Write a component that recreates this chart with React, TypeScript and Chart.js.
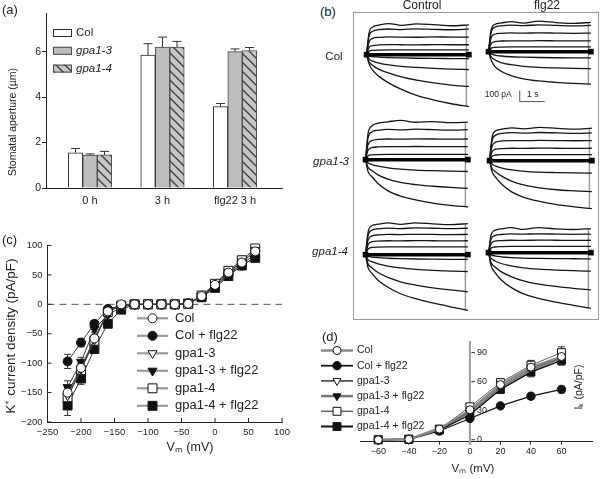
import React, { useEffect, useRef } from 'react';
import { Chart, registerables } from 'chart.js';

Chart.register(...registerables);

const FONT = "'Liberation Sans', Arial, Helvetica, sans-serif";
const INK = '#222222';
Chart.defaults.font.family = FONT;
Chart.defaults.color = INK;

// ---------------- Panel (a): stomatal aperture ----------------
const A_CATEGORIES = ['0 h', '3 h', 'flg22 3 h'];
const A_GENOTYPES = ['Col', 'gpa1-3', 'gpa1-4'];
const A_COL = [1.55, 5.85, 3.58];
const A_COL_ERR = [0.19, 0.5, 0.14];
const A_GPA13 = [1.45, 6.2, 6.0];
const A_GPA13_ERR = [0.05, 0.44, 0.12];
const A_GPA14 = [1.46, 6.2, 6.05];
const A_GPA14_ERR = [0.15, 0.25, 0.13];
const A_Y_TICKS = [0, 2, 4, 6];
const A_Y_MAX = 7.7;

// ---------------- Panel (b): current traces ----------------
const B_TIME = [0, 0.1, 0.25, 0.5, 0.9, 1.4, 2.0, 2.7, 3.4, 4.1]; // s
const B_TAIL_T = 4.0; // s
const B_COL_CONTROL = [
  [0, 200, 255, 272, 286, 270, 283, 276, 266, 274],
  [0, 170, 215, 230, 236, 231, 238, 233, 229, 234],
  [0, 117, 150, 159, 163, 161, 160, 164, 161, 162],
  [0, 66, 84, 89, 92, 91, 90, 92, 91, 91],
  [0, 31, 40, 42, 43, 43, 44, 43, 43, 43],
  [0, -12, -18, -23, -27, -30, -33, -35, -36, -37],
  [0, -40, -60, -78, -95, -108, -118, -127, -133, -137],
  [0, -65, -100, -135, -170, -205, -235, -260, -280, -293],
  [0, -85, -145, -200, -262, -320, -375, -418, -452, -479],
];
const B_COL_FLG22 = [
  [0, 195, 250, 263, 276, 262, 280, 268, 260, 270],
  [0, 175, 225, 238, 244, 240, 246, 241, 237, 242],
  [0, 125, 160, 168, 172, 170, 173, 171, 169, 171],
  [0, 72, 92, 98, 100, 99, 101, 100, 99, 100],
  [0, 31, 40, 42, 43, 43, 43, 43, 43, 43],
  [0, -20, -32, -40, -47, -51, -54, -56, -57, -57],
  [0, -45, -75, -100, -120, -135, -145, -150, -154, -157],
  [0, -75, -135, -180, -220, -250, -270, -283, -292, -299],
];
const B_GPA13_CONTROL = [
  [0, 240, 310, 335, 348, 362, 344, 350, 340, 345],
  [0, 200, 255, 270, 278, 274, 280, 276, 271, 276],
  [0, 137, 175, 186, 190, 188, 191, 190, 188, 190],
  [0, 86, 110, 117, 120, 119, 121, 120, 119, 120],
  [0, 35, 44, 47, 48, 48, 48, 48, 48, 48],
  [0, -30, -45, -60, -75, -87, -96, -102, -106, -109],
  [0, -70, -100, -140, -180, -210, -230, -245, -256, -265],
  [0, -110, -155, -220, -288, -336, -370, -400, -420, -436],
];
const B_GPA13_FLG22 = [
  [0, 210, 275, 290, 302, 293, 306, 297, 290, 299],
  [0, 185, 235, 250, 258, 253, 259, 256, 251, 256],
  [0, 133, 170, 181, 185, 184, 186, 185, 183, 185],
  [0, 82, 105, 111, 114, 113, 115, 114, 113, 114],
  [0, 40, 52, 55, 56, 56, 56, 56, 56, 56],
  [0, -32, -50, -68, -85, -98, -106, -110, -113, -115],
  [0, -70, -105, -145, -190, -225, -250, -268, -278, -286],
  [0, -100, -155, -220, -290, -340, -375, -405, -425, -442],
];
const B_GPA14_CONTROL = [
  [0, 205, 265, 280, 292, 278, 293, 283, 276, 286],
  [0, 175, 225, 238, 245, 240, 246, 243, 239, 243],
  [0, 134, 171, 182, 186, 185, 187, 186, 184, 186],
  [0, 92, 118, 125, 128, 127, 129, 128, 127, 128],
  [0, 52, 66, 70, 72, 72, 72, 72, 72, 72],
  [0, -15, -22, -28, -33, -37, -40, -42, -43, -43],
  [0, -45, -65, -85, -105, -122, -135, -145, -151, -156],
  [0, -85, -120, -165, -210, -250, -280, -305, -325, -342],
  [0, -120, -170, -235, -300, -360, -405, -445, -480, -513],
];
const B_GPA14_FLG22 = [
  [0, 160, 205, 218, 230, 214, 231, 219, 213, 222],
  [0, 123, 157, 167, 172, 170, 173, 171, 169, 171],
  [0, 82, 105, 111, 114, 113, 115, 114, 113, 114],
  [0, 41, 52, 56, 57, 57, 57, 57, 57, 57],
  [0, -20, -30, -38, -45, -50, -53, -55, -56, -57],
  [0, -50, -75, -100, -122, -140, -152, -160, -166, -171],
  [0, -90, -130, -175, -220, -260, -290, -310, -328, -342],
  [0, -120, -180, -250, -320, -380, -420, -455, -485, -513],
];
const B_COLUMNS = ['Control', 'flg22'];
const B_ROWS = ['Col', 'gpa1-3', 'gpa1-4'];
const B_SCALE_PA = 100; // pA
const B_SCALE_S = 1; // s

// ---------------- Panel (c): I-V curves ----------------
const C_VM = [-220, -200, -180, -160, -140, -120, -100, -80, -60, -40, -20, 0, 20, 40, 60];
const C_COL = [-150, -108, -58, -12, 0, 0, 0, 0, 0, 1, 14, 33, 54, 71, 90];
const C_COL_FLG = [-97, -65, -33, -8, -2, 0, 0, 0, 0, 2, 13, 30, 50, 66, 80];
const C_GPA13 = [-155, -110, -60, -14, -1, 0, 0, 0, 0, 1, 14, 33, 55, 72, 92];
const C_GPA13_FLG = [-141, -98, -42, -18, -5, 0, 0, 0, 0, 1, 13, 31, 52, 68, 85];
const C_GPA14 = [-158, -112, -62, -13, -2, 0, 0, 0, 0, 1, 15, 35, 57, 75, 95];
const C_GPA14_FLG = [-172, -126, -76, -33, -9, 0, 0, 0, 0, 1, 12, 28, 48, 66, 79];
const C_COL_ERR = [12, 8, 6, 4, 2, 0, 0, 0, 0, 0, 2, 3, 3, 4, 5];
const C_COL_FLG_ERR = [12, 7, 5, 3, 2, 0, 0, 0, 0, 0, 2, 3, 3, 4, 4];
const C_GPA13_ERR = [14, 9, 6, 4, 2, 0, 0, 0, 0, 0, 2, 3, 3, 4, 5];
const C_GPA13_FLG_ERR = [11, 8, 5, 3, 2, 0, 0, 0, 0, 0, 2, 3, 3, 4, 4];
const C_GPA14_ERR = [14, 9, 6, 4, 2, 0, 0, 0, 0, 0, 2, 3, 4, 4, 5];
const C_GPA14_FLG_ERR = [17, 10, 6, 4, 2, 0, 0, 0, 0, 0, 2, 3, 3, 4, 4];
const C_X_TICKS = [-250, -200, -150, -100, -50, 0, 50, 100];
const C_Y_TICKS = [-200, -150, -100, -50, 0, 50, 100];

// ---------------- Panel (d): outward IK ----------------
const D_VM = [-60, -40, -20, 0, 20, 40, 60];
const D_COL = [0, 0.5, 11, 31, 57, 75, 86];
const D_COL_FLG = [0, 0.5, 9, 22, 35, 45, 52];
const D_GPA13 = [0, 0.5, 10, 30, 56, 74, 85];
const D_GPA13_FLG = [0, 0.5, 12, 28, 54, 72, 84];
const D_GPA14 = [0, 0.5, 11, 34, 59, 77, 90];
const D_GPA14_FLG = [0, 0.5, 10, 26, 52, 70, 82];
const D_COL_ERR = [0, 0, 1.5, 2.5, 4, 5, 6];
const D_COL_FLG_ERR = [0, 0, 1, 2, 2.5, 3, 3.5];
const D_GPA13_ERR = [0, 0, 1.5, 2.5, 4, 5, 6];
const D_GPA13_FLG_ERR = [0, 0, 1.5, 2.5, 4, 5, 5];
const D_GPA14_ERR = [0, 0, 1.5, 2.5, 4, 5, 6];
const D_GPA14_FLG_ERR = [0, 0, 1.5, 2.5, 4, 5, 5];
const D_X_TICKS = [-60, -40, -20, 0, 20, 40, 60];
const D_Y_TICKS = [0, 30, 60, 90];

const SERIES_LABELS = ['Col', 'Col + flg22', 'gpa1-3', 'gpa1-3 + flg22', 'gpa1-4', 'gpa1-4 + flg22'];

// ---------------- helpers ----------------
const minus = (v: any) => String(v).replace('-', '\u2212');

type TextSpec = { t: string; x: number; y: number; size: number; align?: CanvasTextAlign; rot?: number; italic?: boolean };
function drawTexts(ctx: CanvasRenderingContext2D, items: TextSpec[]) {
  for (const it of items) {
    ctx.save();
    ctx.translate(it.x, it.y);
    if (it.rot) ctx.rotate((it.rot * Math.PI) / 180);
    ctx.font = `${it.italic ? 'italic ' : ''}${it.size}px ${FONT}`;
    ctx.fillStyle = INK;
    ctx.textAlign = it.align ?? 'center';
    ctx.textBaseline = 'middle';
    ctx.fillText(it.t, 0, 0);
    ctx.restore();
  }
}

function drawMarker(ctx: CanvasRenderingContext2D, style: string, x: number, y: number, r: number, rotDeg: number, fill: string, stroke: string, bw: number) {
  ctx.save();
  ctx.beginPath();
  if (style === 'circle') {
    ctx.arc(x, y, r, 0, Math.PI * 2);
  } else if (style === 'triangle') {
    let a = (rotDeg * Math.PI) / 180;
    ctx.moveTo(x + Math.sin(a) * r, y - Math.cos(a) * r);
    a += (2 * Math.PI) / 3;
    ctx.lineTo(x + Math.sin(a) * r, y - Math.cos(a) * r);
    a += (2 * Math.PI) / 3;
    ctx.lineTo(x + Math.sin(a) * r, y - Math.cos(a) * r);
    ctx.closePath();
  } else {
    const h = r * Math.SQRT1_2;
    ctx.rect(x - h, y - h, 2 * h, 2 * h);
  }
  ctx.fillStyle = fill;
  ctx.fill();
  ctx.lineWidth = bw;
  ctx.strokeStyle = stroke;
  ctx.stroke();
  ctx.restore();
}

function drawErrorBars(chart: any, capHalf: number, upOnly: boolean, color: string) {
  const ctx: CanvasRenderingContext2D = chart.ctx;
  chart.data.datasets.forEach((ds: any, di: number) => {
    const errs: number[] | undefined = ds.errors;
    if (!errs) return;
    const meta = chart.getDatasetMeta(di);
    const ys = chart.scales[meta.yAxisID];
    meta.data.forEach((el: any, i: number) => {
      const e = errs[i];
      if (!e) return;
      const v = ds.data[i].y;
      const x = el.x;
      const yHi = ys.getPixelForValue(v + e);
      const yLo = upOnly ? el.y : ys.getPixelForValue(v - e);
      ctx.save();
      ctx.strokeStyle = color;
      ctx.lineWidth = 1;
      ctx.beginPath();
      ctx.moveTo(x, yLo);
      ctx.lineTo(x, yHi);
      ctx.moveTo(x - capHalf, yHi);
      ctx.lineTo(x + capHalf, yHi);
      if (!upOnly) {
        ctx.moveTo(x - capHalf, yLo);
        ctx.lineTo(x + capHalf, yLo);
      }
      ctx.stroke();
      ctx.restore();
    });
  });
}

function makeHatch(): CanvasPattern | string {
  const c = document.createElement('canvas');
  c.width = 9;
  c.height = 9;
  const g = c.getContext('2d');
  if (!g) return '#c4c4c4';
  g.fillStyle = '#c6c6c6';
  g.fillRect(0, 0, 9, 9);
  g.strokeStyle = '#3c3c3c';
  g.lineWidth = 1.3;
  g.beginPath();
  g.moveTo(-1, -1);
  g.lineTo(10, 10);
  g.moveTo(-1, 8);
  g.lineTo(1, 10);
  g.moveTo(8, -1);
  g.lineTo(10, 1);
  g.stroke();
  return g.createPattern(c, 'repeat') ?? '#c4c4c4';
}

const baseOptions = {
  responsive: false,
  animation: false,
  events: [] as any[],
  plugins: { legend: { display: false }, tooltip: { enabled: false } },
};

// ---------------- builders ----------------
function buildA() {
  const hatch = makeHatch();
  const series = [
    { data: A_COL, err: A_COL_ERR, bg: '#ffffff', bc: '#2a2a2a' },
    { data: A_GPA13, err: A_GPA13_ERR, bg: '#bdbdbd', bc: '#4a4a4a' },
    { data: A_GPA14, err: A_GPA14_ERR, bg: hatch, bc: '#4a4a4a' },
  ];
  return {
    type: 'bar',
    data: {
      datasets: series.map((s, k) => ({
        label: A_GENOTYPES[k],
        data: s.data.map((v, i) => ({ x: i, y: v })),
        errors: s.err,
        backgroundColor: s.bg,
        borderColor: s.bc,
        borderWidth: 1,
        barThickness: 14.5,
      })),
    },
    options: {
      ...baseOptions,
      layout: { padding: { left: 0, right: 8, top: 13, bottom: 0 } },
      scales: {
        x: {
          type: 'linear',
          offset: false,
          min: -0.607,
          max: 2.648,
          afterFit: (s: any) => { s.height = 27; },
          afterBuildTicks: (s: any) => { s.ticks = A_CATEGORIES.map((_, i) => ({ value: i })); },
          grid: { display: false, drawTicks: false, offset: false },
          border: { display: true, color: INK, width: 1 },
          ticks: { autoSkip: false, maxRotation: 0, padding: 6, color: INK, font: { size: 11 }, callback: (v: any) => A_CATEGORIES[v] ?? '' },
        },
        y: {
          min: 0,
          max: A_Y_MAX,
          afterFit: (s: any) => { s.width = 46; },
          afterBuildTicks: (s: any) => { s.ticks = A_Y_TICKS.map((v) => ({ value: v })); },
          grid: { display: true, drawOnChartArea: false, drawTicks: true, tickLength: 4, color: INK },
          border: { display: true, color: INK, width: 1 },
          ticks: { padding: 1, color: INK, font: { size: 10.5 } },
        },
      },
    },
    plugins: [
      {
        id: 'aDeco',
        afterDatasetsDraw(chart: any) {
          drawErrorBars(chart, 4.5, true, '#333');
        },
        afterDraw(chart: any) {
          const ctx: CanvasRenderingContext2D = chart.ctx;
          chart.data.datasets.forEach((ds: any, k: number) => {
            const cy = 33 + k * 17.8;
            ctx.save();
            ctx.fillStyle = ds.backgroundColor;
            ctx.fillRect(53, cy - 4, 19, 8);
            ctx.strokeStyle = ds.borderColor;
            ctx.lineWidth = 1;
            ctx.strokeRect(53.5, cy - 3.5, 18, 7);
            ctx.restore();
            drawTexts(ctx, [{ t: ds.label, x: 76, y: cy, size: 11.5, align: 'left', italic: k > 0 }]);
          });
          drawTexts(ctx, [
            { t: '(a)', x: 2, y: 10, size: 13, align: 'left' },
            { t: 'Stomatal aperture (\u00b5m)', x: 13, y: 122, size: 10.5, rot: -90 },
          ]);
        },
      },
    ],
  };
}

const B_PX_PER_S = 26.7;
const B_PX_PER_PA = 0.117;
const B_PAD_L = 7;
const B_PAD_T = 47;
const B_W = 123;
const B_H = 112;
const B_LAYOUT = [
  { traces: B_COL_CONTROL, x0: 363, y0: 54, bar: false },
  { traces: B_COL_FLG22, x0: 485, y0: 51, bar: true },
  { traces: B_GPA13_CONTROL, x0: 362, y0: 159, bar: false },
  { traces: B_GPA13_FLG22, x0: 486, y0: 160, bar: false },
  { traces: B_GPA14_CONTROL, x0: 362, y0: 254, bar: false },
  { traces: B_GPA14_FLG22, x0: 485, y0: 252, bar: false },
];

function buildB(traces: number[][], withBar: boolean) {
  return () => {
    const xmin = -B_PAD_L / B_PX_PER_S;
    const xmax = xmin + B_W / B_PX_PER_S;
    const ymax = B_PAD_T / B_PX_PER_PA;
    const ymin = ymax - B_H / B_PX_PER_PA;
    const ends = traces.map((tr) => tr[tr.length - 1]);
    const tEnd = B_TIME[B_TIME.length - 1];
    const datasets: any[] = [];
    datasets.push({
      data: [{ x: B_TIME[0], y: 0 }, { x: tEnd, y: 0 }],
      borderColor: '#050505',
      borderWidth: 3.5,
      pointStyle: 'rect',
      pointRadius: 4,
      pointBackgroundColor: '#050505',
      pointBorderWidth: 0,
      clip: false,
    });
    traces.forEach((tr) => {
      datasets.push({
        data: B_TIME.map((t, i) => ({ x: t, y: tr[i] })),
        borderColor: '#151515',
        borderWidth: 1.3,
        pointRadius: 0,
        cubicInterpolationMode: 'monotone',
        clip: false,
      });
    });
    datasets.push({
      data: [{ x: B_TAIL_T, y: Math.min(...ends) }, { x: B_TAIL_T, y: Math.max(...ends) }],
      borderColor: '#9a9a9a',
      borderWidth: 1.5,
      pointRadius: 0,
      clip: false,
    });
    const plugins: any[] = [];
    if (withBar) {
      plugins.push({
        id: 'scaleBar',
        afterDraw(chart: any) {
          const ctx: CanvasRenderingContext2D = chart.ctx;
          const xs = chart.scales.x;
          const ys = chart.scales.y;
          const t0 = 1.25;
          const p0 = -460;
          const x1 = xs.getPixelForValue(t0);
          const x2 = xs.getPixelForValue(t0 + B_SCALE_S);
          const y1 = ys.getPixelForValue(p0);
          const y2 = ys.getPixelForValue(p0 + B_SCALE_PA);
          ctx.save();
          ctx.strokeStyle = '#555';
          ctx.lineWidth = 1;
          ctx.beginPath();
          ctx.moveTo(x1, y2);
          ctx.lineTo(x1, y1);
          ctx.lineTo(x2, y1);
          ctx.stroke();
          ctx.restore();
          drawTexts(ctx, [
            { t: `${B_SCALE_PA} pA`, x: x1 - 8, y: y1 - 6.5, size: 8.5, align: 'right' },
            { t: `${B_SCALE_S} s`, x: x1 + 13, y: y1 - 6.5, size: 8.5 },
          ]);
        },
      });
    }
    return {
      type: 'line',
      data: { datasets },
      options: {
        ...baseOptions,
        layout: { padding: 0 },
        scales: {
          x: { type: 'linear', display: false, min: xmin, max: xmax },
          y: { type: 'linear', display: false, min: ymin, max: ymax },
        },
      },
      plugins,
    };
  };
}

type SeriesStyle = { ps: string; rot: number; r: number; fill: string; line: string; lw: number };
const C_STYLES: SeriesStyle[] = [
  { ps: 'circle', rot: 0, r: 4.5, fill: '#ffffff', line: '#3a3a3a', lw: 1 },
  { ps: 'circle', rot: 0, r: 4.5, fill: '#111111', line: '#3a3a3a', lw: 1 },
  { ps: 'triangle', rot: 180, r: 5.2, fill: '#ffffff', line: '#3a3a3a', lw: 1 },
  { ps: 'triangle', rot: 180, r: 5.2, fill: '#111111', line: '#3a3a3a', lw: 1 },
  { ps: 'rect', rot: 0, r: 6.3, fill: '#ffffff', line: '#3a3a3a', lw: 1 },
  { ps: 'rect', rot: 0, r: 6.3, fill: '#111111', line: '#3a3a3a', lw: 1 },
];

function lineDatasets(xs: number[], ys: number[][], errs: number[][], styles: SeriesStyle[]) {
  return ys.map((arr, k) => ({
    label: SERIES_LABELS[k],
    data: xs.map((x, i) => ({ x, y: arr[i] })),
    errors: errs[k],
    borderColor: styles[k].line,
    borderWidth: styles[k].lw,
    pointStyle: styles[k].ps,
    pointRotation: styles[k].rot,
    pointRadius: styles[k].r,
    pointBackgroundColor: styles[k].fill,
    pointBorderColor: '#111',
    pointBorderWidth: 1,
    tension: 0,
    clip: false,
  }));
}

function buildC() {
  const datasets = lineDatasets(
    C_VM,
    [C_COL, C_COL_FLG, C_GPA13, C_GPA13_FLG, C_GPA14, C_GPA14_FLG],
    [C_COL_ERR, C_COL_FLG_ERR, C_GPA13_ERR, C_GPA13_FLG_ERR, C_GPA14_ERR, C_GPA14_FLG_ERR],
    C_STYLES,
  );
  return {
    type: 'line',
    data: { datasets },
    options: {
      ...baseOptions,
      layout: { padding: { left: 0, right: 18, top: 17.5, bottom: 0 } },
      scales: {
        x: {
          type: 'linear',
          min: -250,
          max: 100,
          afterFit: (s: any) => { s.height = 57; },
          afterBuildTicks: (s: any) => { s.ticks = C_X_TICKS.map((v) => ({ value: v })); },
          grid: { display: false, drawTicks: false },
          border: { display: true, color: INK, width: 1 },
          ticks: { autoSkip: false, maxRotation: 0, padding: 5, color: INK, font: { size: 9.5 }, callback: minus },
        },
        y: {
          type: 'linear',
          min: -200,
          max: 100,
          afterFit: (s: any) => { s.width = 47.5; },
          afterBuildTicks: (s: any) => { s.ticks = C_Y_TICKS.map((v) => ({ value: v })); },
          grid: { display: false, drawTicks: false },
          border: { display: true, color: INK, width: 1 },
          ticks: { padding: 5, color: INK, font: { size: 9.5 }, callback: minus },
        },
      },
    },
    plugins: [
      {
        id: 'cDeco',
        beforeDatasetsDraw(chart: any) {
          const ctx: CanvasRenderingContext2D = chart.ctx;
          const xs = chart.scales.x;
          const ys = chart.scales.y;
          const area = chart.chartArea;
          const y0 = ys.getPixelForValue(0);
          ctx.save();
          ctx.strokeStyle = '#555';
          ctx.lineWidth = 1;
          ctx.setLineDash([7, 5]);
          ctx.beginPath();
          ctx.moveTo(area.left, y0);
          ctx.lineTo(area.right, y0);
          ctx.stroke();
          ctx.setLineDash([]);
          ctx.strokeStyle = INK;
          ctx.beginPath();
          C_X_TICKS.forEach((v) => {
            const px = xs.getPixelForValue(v);
            ctx.moveTo(px, area.bottom);
            ctx.lineTo(px, area.bottom - 4);
          });
          C_Y_TICKS.forEach((v) => {
            const py = ys.getPixelForValue(v);
            ctx.moveTo(area.left, py);
            ctx.lineTo(area.left + 4, py);
          });
          ctx.stroke();
          ctx.restore();
          drawErrorBars(chart, 3.5, false, '#333');
        },
        afterDraw(chart: any) {
          const ctx: CanvasRenderingContext2D = chart.ctx;
          SERIES_LABELS.forEach((lab, k) => {
            const cy = 90.3 + k * 17.5;
            ctx.save();
            ctx.strokeStyle = '#9a9a9a';
            ctx.lineWidth = 2.2;
            ctx.beginPath();
            ctx.moveTo(137, cy);
            ctx.lineTo(168, cy);
            ctx.stroke();
            ctx.restore();
            const st = C_STYLES[k];
            drawMarker(ctx, st.ps, 152.5, cy, st.r, st.rot, st.fill, '#111', 1);
            drawTexts(ctx, [{ t: lab, x: 175, y: cy, size: 13, align: 'left' }]);
          });
          drawTexts(ctx, [
            { t: '(c)', x: 2, y: 12, size: 13, align: 'left' },
            { t: 'K\u207a current density (pA/pF)', x: 11, y: 108, size: 13.5, rot: -90 },
            { t: 'V\u2098 (mV)', x: 190, y: 220, size: 12.5 },
          ]);
        },
      },
    ],
  };
}

const D_STYLES: SeriesStyle[] = [
  { ps: 'circle', rot: 0, r: 4, fill: '#ffffff', line: '#8a8a8a', lw: 2 },
  { ps: 'circle', rot: 0, r: 4.2, fill: '#111111', line: '#111111', lw: 1.2 },
  { ps: 'triangle', rot: 180, r: 4.6, fill: '#ffffff', line: '#333333', lw: 1 },
  { ps: 'triangle', rot: 180, r: 4.6, fill: '#111111', line: '#777777', lw: 2 },
  { ps: 'rect', rot: 0, r: 5.6, fill: '#ffffff', line: '#666666', lw: 1 },
  { ps: 'rect', rot: 0, r: 5.6, fill: '#111111', line: '#111111', lw: 1.5 },
];

function buildD() {
  const datasets = lineDatasets(
    D_VM,
    [D_COL, D_COL_FLG, D_GPA13, D_GPA13_FLG, D_GPA14, D_GPA14_FLG],
    [D_COL_ERR, D_COL_FLG_ERR, D_GPA13_ERR, D_GPA13_FLG_ERR, D_GPA14_ERR, D_GPA14_FLG_ERR],
    D_STYLES,
  );
  return {
    type: 'line',
    data: { datasets },
    options: {
      ...baseOptions,
      layout: { padding: { left: 60, right: 9, top: 11, bottom: 0 } },
      scales: {
        x: {
          type: 'linear',
          min: -72,
          max: 80,
          afterFit: (s: any) => { s.height = 37.3; },
          afterBuildTicks: (s: any) => { s.ticks = D_X_TICKS.map((v) => ({ value: v })); },
          grid: { display: true, drawOnChartArea: false, drawTicks: true, tickLength: 3, color: INK },
          border: { display: true, color: INK, width: 1 },
          ticks: { autoSkip: false, maxRotation: 0, padding: 1, color: INK, font: { size: 9 }, callback: minus },
        },
        y: { type: 'linear', display: false, min: -2, max: 102 },
      },
    },
    plugins: [
      {
        id: 'dDeco',
        beforeDatasetsDraw(chart: any) {
          const ctx: CanvasRenderingContext2D = chart.ctx;
          const xs = chart.scales.x;
          const ys = chart.scales.y;
          const area = chart.chartArea;
          const x0 = xs.getPixelForValue(0);
          ctx.save();
          ctx.strokeStyle = '#9c9c9c';
          ctx.lineWidth = 2;
          ctx.beginPath();
          ctx.moveTo(x0, area.top);
          ctx.lineTo(x0, area.bottom + 3);
          ctx.stroke();
          ctx.strokeStyle = INK;
          ctx.lineWidth = 1;
          ctx.beginPath();
          D_Y_TICKS.forEach((v) => {
            const py = ys.getPixelForValue(v);
            ctx.moveTo(x0 + 1.5, py);
            ctx.lineTo(x0 + 5, py);
          });
          ctx.stroke();
          ctx.restore();
          drawTexts(ctx, D_Y_TICKS.map((v) => ({ t: String(v), x: x0 + 7, y: ys.getPixelForValue(v), size: 9, align: 'left' as CanvasTextAlign })));
          drawErrorBars(chart, 3.5, false, '#333');
        },
        afterDraw(chart: any) {
          const ctx: CanvasRenderingContext2D = chart.ctx;
          SERIES_LABELS.forEach((lab, k) => {
            const cy = 20.5 + k * 15.2;
            const st = D_STYLES[k];
            ctx.save();
            ctx.strokeStyle = st.line;
            ctx.lineWidth = st.lw + 0.5;
            ctx.beginPath();
            ctx.moveTo(21, cy);
            ctx.lineTo(53, cy);
            ctx.stroke();
            ctx.restore();
            drawMarker(ctx, st.ps, 37, cy, st.r, st.rot, st.fill, '#111', 1);
            drawTexts(ctx, [{ t: lab, x: 57, y: cy, size: 10.5, align: 'left' }]);
          });
          drawTexts(ctx, [
            { t: '(d)', x: 22, y: 7, size: 13, align: 'left' },
            { t: 'V\u2098 (mV)', x: 173, y: 139, size: 11.5 },
            { t: 'I\u2096 (pA/pF)', x: 279, y: 57, size: 10.5, rot: -90 },
          ]);
        },
      },
    ],
  };
}

// ---------------- components ----------------
function ChartCanvas({ left, top, width, height, build }: { left: number; top: number; width: number; height: number; build: () => any }) {
  const ref = useRef<HTMLCanvasElement | null>(null);
  useEffect(() => {
    if (!ref.current) return;
    const chart = new Chart(ref.current, build());
    return () => chart.destroy();
  }, []);
  return (
    <div style={{ position: 'absolute', left, top, width, height }}>
      <canvas ref={ref} width={width} height={height} style={{ display: 'block', width, height }} />
    </div>
  );
}

function Label({ x, y, text, size, italic, align = 'center' }: { x: number; y: number; text: string; size: number; italic?: boolean; align?: 'left' | 'center' | 'right' }) {
  const tx = align === 'center' ? '-50%' : align === 'right' ? '-100%' : '0';
  return (
    <div
      style={{
        position: 'absolute',
        left: x,
        top: y,
        transform: `translate(${tx}, -50%)`,
        fontSize: size,
        fontStyle: italic ? 'italic' : 'normal',
        whiteSpace: 'nowrap',
        lineHeight: 1,
        color: INK,
        fontFamily: FONT,
      }}
    >
      {text}
    </div>
  );
}

export default function App() {
  return (
    <div style={{ position: 'fixed', left: 0, top: 0, width: 601, height: 479, background: '#ffffff', overflow: 'hidden' }}>
      <ChartCanvas left={0} top={0} width={290} height={215} build={buildA} />
      <div style={{ position: 'absolute', left: 353, top: 12, width: 246, height: 308, border: '1px solid #9a9a9a', boxSizing: 'border-box' }} />
      {B_LAYOUT.map((p, i) => (
        <ChartCanvas key={i} left={p.x0 - B_PAD_L} top={p.y0 - B_PAD_T} width={B_W} height={B_H} build={buildB(p.traces, p.bar)} />
      ))}
      <Label x={320} y={11} text="(b)" size={13} align="left" />
      <Label x={422} y={5} text={B_COLUMNS[0]} size={12} />
      <Label x={547} y={5} text={B_COLUMNS[1]} size={12} />
      <Label x={334} y={57} text={B_ROWS[0]} size={11.5} />
      <Label x={331} y={162} text={B_ROWS[1]} size={11.5} italic />
      <Label x={330} y={252} text={B_ROWS[2]} size={11.5} italic />
      <ChartCanvas left={0} top={228} width={300} height={251} build={buildC} />
      <ChartCanvas left={300} top={330} width={301} height={149} build={buildD} />
    </div>
  );
}
